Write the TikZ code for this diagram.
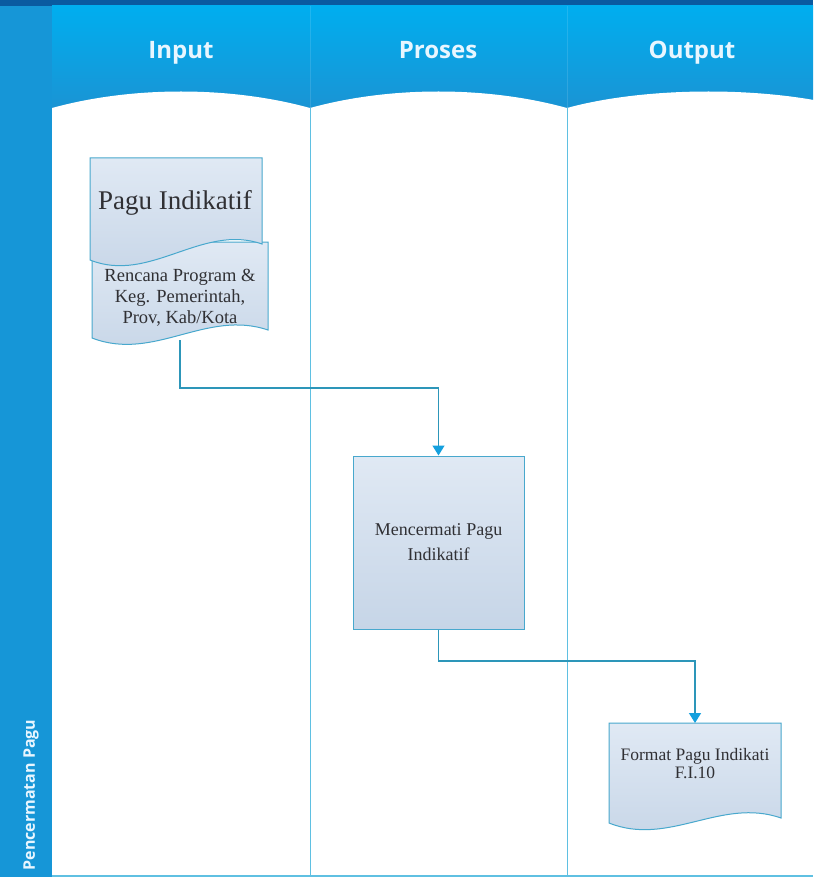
\documentclass[tikz,border=0pt]{standalone}
\usepackage{fontspec}
\setmainfont{Liberation Serif}
\newfontfamily\headfont{Open Sans}
\usetikzlibrary{arrows.meta,calc}

\definecolor{topbar}{RGB}{10,90,160}
\definecolor{sidebar}{RGB}{22,150,215}
\definecolor{headtop}{RGB}{0,174,239}
\definecolor{headbot}{RGB}{28,146,210}
\definecolor{headtext}{RGB}{232,246,255}
\definecolor{laneline}{RGB}{95,192,226}
\definecolor{boxline}{RGB}{72,168,205}
\definecolor{boxtop}{RGB}{224,233,244}
\definecolor{boxbot}{RGB}{198,213,231}
\definecolor{flowline}{RGB}{45,150,185}
\definecolor{arrowblue}{RGB}{20,160,222}
\definecolor{textgray}{RGB}{48,48,52}

\begin{document}
\begin{tikzpicture}[x=1pt,y=-1pt,
	>={Triangle[width=12pt,length=10pt,color=arrowblue]},
	lane/.style={draw=laneline,line width=1pt},
	docbox/.style={draw=boxline,line width=1pt,top color=boxtop,bottom color=boxbot},
	flow/.style={draw=flowline,line width=1.3pt},
	head/.style={font=\headfont\bfseries\fontsize{24}{28}\selectfont,text=headtext,anchor=base},
	side/.style={font=\headfont\bfseries\fontsize{16}{19}\selectfont,text=headtext,rotate=90},
	txt/.style={align=center,text=textgray,inner sep=0pt}]
	\useasboundingbox (0,0) rectangle (813,877);
	%Khung ngoai
	\fill[topbar] (0,0) rectangle (813,6);
	\fill[sidebar] (0,6) rectangle (52,877);
	\shade[top color=headtop,bottom color=headbot] (52,6) rectangle (813,115);
	%Lajur
	\foreach \xa/\xb in {52/310,310/567,567/850}
	\fill[white] (\xa,108) .. controls +(80,-22) and +(-80,-22) .. (\xb,108) -- (\xb,877) -- (\xa,877) -- cycle;
	\foreach \xa in {310,567}{
		\draw[white,opacity=.12] (\xa,6) -- (\xa,108);
		\draw[lane] (\xa,108) -- (\xa,877);
	}
	\draw[lane,line width=2pt] (52,876) -- (813,876);
	%Judul lajur
	\node[head] (hinput) at (181,59) {Input};
	\node[head] (hproses) at (438,59) {Proses};
	\node[head] (houtput) at (692,59) {Output};
	\node[side] (lanename) at (31,795) {Pencermatan Pagu};
	%Dokumen belakang
	\path[docbox] (92,242) -- (268,242) -- (268,330) .. controls (206,309) and (154,362) .. (92,338) -- cycle;
	\node[txt,font=\fontsize{18.5}{21}\selectfont] (rencana) at (180,298) {Rencana Program \&\\Keg. Pemerintah,\\Prov, Kab/Kota};
	%Dokumen depan
	\path[docbox] (90,158) -- (262,158) -- (262,244) .. controls (202,223) and (150,284) .. (90,260) -- cycle;
	\node[txt,font=\fontsize{27}{30}\selectfont] (pagu) at (175,203) {Pagu Indikatif};
	%Proses
	\node[docbox,txt,minimum width=171pt,minimum height=173pt,font=\fontsize{18}{25}\selectfont] (proses) at (438.5,542.5) {Mencermati Pagu\\Indikatif};
	%Output
	\path[docbox] (609,723) -- (781,723) -- (781,818) .. controls (721,797) and (669,847) .. (609,823) -- cycle;
	\node[txt,font=\fontsize{17.5}{18}\selectfont] (format) at (695,764) {Format Pagu Indikati\\F.I.10};
	%Panah
	\coordinate (belok1) at (0,388);
	\coordinate (belok2) at (0,661);
	\draw[flow,->] (rencana.south |- 0,340) |- (proses.north |- belok1) -- (proses.north);
	\draw[flow,->] (proses.south) |- (format.north |- belok2) -- (format.north |- 0,723);
\end{tikzpicture}
\end{document}
